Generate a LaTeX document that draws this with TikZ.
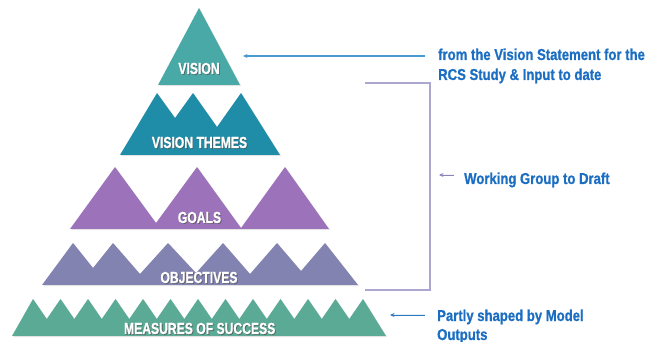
\documentclass[tikz,border=0pt]{standalone}
\usepackage{fontspec}
\setmainfont{Liberation Sans}
\newfontfamily\labfont[FakeStretch=0.76,FakeBold=0.8]{Liberation Sans}
\newfontfamily\notefont[FakeStretch=0.83,FakeBold=0.8]{Liberation Sans}
\usetikzlibrary{arrows.meta,shadows}
\definecolor{cVision}{HTML}{48A9A6}
\definecolor{cThemes}{HTML}{1F8DA8}
\definecolor{cGoals}{HTML}{9C73BA}
\definecolor{cObj}{HTML}{8383B2}
\definecolor{cMeas}{HTML}{5BAA95}
\definecolor{cNote}{HTML}{1B6EC2}
\definecolor{cArrow}{HTML}{4A9AD4}
\definecolor{cArrowB}{HTML}{2E78C0}
\definecolor{cBrack}{HTML}{ABA7CF}
\definecolor{cArrowP}{HTML}{8B84B8}
\begin{document}
\begin{tikzpicture}[x=1pt,y=-1pt,
  tri/.style={fill=#1,draw=none,drop shadow={opacity=0.22,shadow xshift=1.2pt,shadow yshift=-1.2pt}},
  lab/.style={font=\labfont\bfseries\fontsize{16}{16}\selectfont,text=white,inner sep=0pt,anchor=base},
  labsh/.style={font=\labfont\bfseries\fontsize{16}{16}\selectfont,text=black!70,opacity=0.6,inner sep=0pt,anchor=base},
  note/.style={font=\notefont\bfseries\fontsize{15.8}{16}\selectfont,text=cNote,inner sep=0pt,anchor=base west},
  bracket/.style={draw=cBrack,line width=1.3pt},
  arr/.style={-{Stealth[length=4.5pt,width=4pt]},line width=#1}
]
\useasboundingbox (0,0) rectangle (657,342);

% pyramid layers
\path[tri=cVision] (199,8) -- (240,85) -- (158,85) -- cycle;
\path[tri=cThemes] (120,155) -- (157,93) -- (175,118) -- (193,93) -- (217,127) -- (241,93) -- (280,155) -- cycle;
\path[tri=cGoals] (70,229) -- (115,167) -- (156,223) -- (197,167) -- (241,228) -- (285,167) -- (329,229) -- cycle;
\path[tri=cObj] (42,285) -- (73,243) -- (93,268) -- (113,243) -- (140,274) -- (168,243) -- (196,273) -- (223,243) -- (250,274) -- (277,243) -- (301,271) -- (325,243) -- (358,285) -- cycle;
\path[tri=cMeas] (12,336) foreach \k in {0,...,11} { -- ({33+27.5*\k},299) -- ({46.75+27.5*\k},319) } -- (363,299) -- (386,336) -- cycle;

% labels with shadows
\node[labsh] (visS) at (199.9,74.9) {VISION};
\node[lab] (vis) at (199,74) {VISION};
\node[labsh] (themS) at (200.4,148.9) {VISION THEMES};
\node[lab] (them) at (199.5,148) {VISION THEMES};
\node[labsh] (goalS) at (200.4,223.9) {GOALS};
\node[lab] (goal) at (199.5,223) {GOALS};
\node[labsh] (objS) at (199.9,283.9) {OBJECTIVES};
\node[lab] (obj) at (199,283) {OBJECTIVES};
\node[labsh] (measS) at (200.6,334.9) {MEASURES OF SUCCESS};
\node[lab] (meas) at (199.7,334) {MEASURES OF SUCCESS};

% notes
\node[note] (n1) at (438,60) {from the Vision Statement for the};
\node[note] (n2) at (438,80) {RCS Study \& Input to date};
\node[note] (n3) at (464,184) {Working Group to Draft};
\node[note] (n4) at (437,321) {Partly shaped by Model};
\node[note] (n5) at (437,340) {Outputs};

% connectors
\coordinate (a1s) at (425,56);
\coordinate (a1e) at (243,56);
\draw[arr=1.3pt,draw=cArrow,fill=cArrow] (a1s) -- (a1e);

\coordinate (b1) at (365,83);
\coordinate (b2) at (430,83);
\coordinate (b3) at (430,290);
\coordinate (b4) at (365,290);
\draw[bracket] (b1) -- (b2) -- (b3) -- (b4);

\coordinate (a2s) at (454,175);
\coordinate (a2e) at (439,175);
\draw[arr=0.8pt,draw=cArrowP,fill=cArrowP] (a2s) -- (a2e);

\coordinate (a3s) at (425,315);
\coordinate (a3e) at (390,315);
\draw[arr=0.8pt,draw=cArrowB,fill=cArrowB] (a3s) -- (a3e);
\end{tikzpicture}
\end{document}
